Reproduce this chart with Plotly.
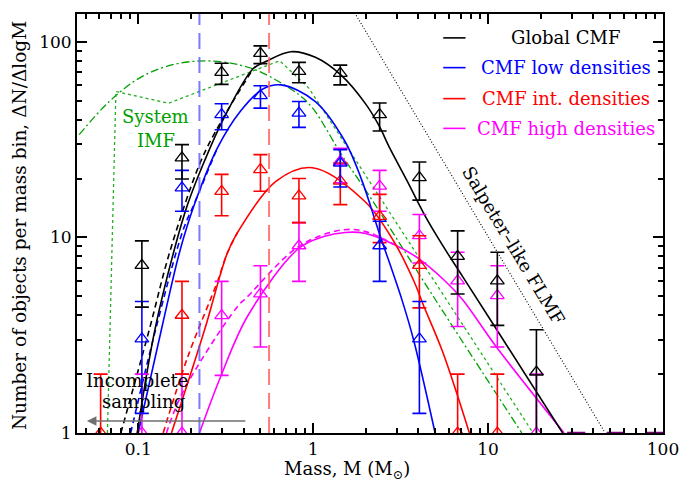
import numpy as np
import plotly.graph_objects as go

# ---------------------------------------------------------------- data
# binned core mass function: value, upper and lower end of the error bar
global_m  = [0.105, 0.178, 0.30, 0.50, 0.83, 1.43, 2.4, 4.05, 6.7, 11.3, 18.9]
global_n  = [7.2, 25.5, 69.8, 87.2, 70.5, 69.0, 42.4, 20.2, 8.0, 6.0, 2.05]
global_hi = [9.6, 29.8, 77.6, 95.3, 78.5, 76.0, 48.6, 24.3, 10.8, 8.4, 3.37]
global_lo = [4.4, 19.9, 60.6, 77.3, 61.7, 60.2, 35.0, 15.5, 5.14, 3.55, 0.7]

low_m  = [0.105, 0.178, 0.30, 0.50, 0.83, 1.43, 2.4, 4.05]
low_n  = [3.03, 17.9, 42.4, 53.1, 43.2, 24.0, 9.06, 3.03]
low_hi = [4.7, 22.0, 48.2, 59.6, 49.5, 28.1, 12.1, 4.7]
low_lo = [1.26, 13.6, 35.5, 45.8, 36.5, 18.1, 5.96, 1.26]

int_m  = [0.061, 0.178, 0.30, 0.50, 0.83, 1.43, 2.4, 4.05, 6.7, 11.3]
int_n  = [1.0, 4.0, 17.2, 22.2, 16.3, 19.4, 12.8, 7.2, 1.0, 1.0]
int_hi = [2.0, 5.96, 21.0, 26.5, 20.0, 24.0, 16.6, 10.2, 2.0, 2.0]
int_lo = [0.5, 2.0, 12.9, 17.2, 11.9, 14.7, 9.4, 4.36, 0.5, 0.5]

high_m  = [0.105, 0.178, 0.30, 0.50, 0.83, 1.43, 2.4, 4.05, 6.7, 11.3, 18.9]
high_n  = [1.0, 1.0, 3.98, 5.14, 9.06, 24.5, 18.3, 10.2, 6.0, 5.04, 1.0]
high_hi = [2.0, 2.0, 5.96, 7.16, 11.9, 28.5, 22.0, 13.1, 8.4, 7.16, 2.0]
high_lo = [0.5, 0.5, 1.97, 2.75, 5.96, 19.0, 13.6, 7.4, 3.5, 2.75, 0.5]

# empty high-mass bins (drawn at the floor of the plot)
empty_m = [31.9, 53.7, 90.6]
empty_n = [1.0, 1.0, 1.0]

# fitted mass functions (solid) and alternative fits (dashed)
fit_global_m = [0.0987, 0.124, 0.16, 0.192, 0.239, 0.309, 0.455, 0.54, 0.746, 1.03, 1.44,
                2.0, 2.39, 2.72, 3.44, 4.3, 5.5, 7.16, 12.0, 26.7]
fit_global_n = [1.0, 3.3, 8.5, 14.8, 24.5, 40.7, 73.0, 79.5, 89.0, 83.3, 67.7,
                48.0, 37.0, 29.0, 19.5, 13.2, 9.1, 6.3, 3.07, 1.0]
alt_global_m = [0.0796, 0.115, 0.152, 0.228, 0.30, 0.455]
alt_global_n = [1.0, 3.3, 8.5, 24.5, 39.5, 73.0]

fit_low_m = [0.1, 0.136, 0.173, 0.21, 0.283, 0.383, 0.519, 0.656, 1.03, 1.52, 1.89, 2.39,
             3.23, 3.76, 4.98]
fit_low_n = [1.0, 3.4, 8.5, 14.8, 28.5, 44.0, 57.5, 60.2, 49.5, 31.0, 19.8, 10.5,
             4.75, 2.97, 1.0]
alt_low_m = [0.0906, 0.125, 0.18, 0.21, 0.283]
alt_low_n = [1.0, 3.3, 10.8, 15.0, 28.5]

fit_int_m = [0.155, 0.239, 0.323, 0.37, 0.615, 0.99, 1.97, 2.9, 3.76, 4.27, 5.5, 7.82]
fit_int_n = [1.0, 3.34, 8.3, 10.6, 19.4, 22.7, 15.3, 9.5, 6.0, 4.5, 2.6, 1.0]
alt_int_m = [0.139, 0.192, 0.285, 0.323, 0.37]
alt_int_n = [1.0, 2.45, 6.0, 8.3, 10.6]

fit_high_m = [0.224, 0.296, 0.425, 0.83, 1.15, 1.52, 1.97, 2.9, 3.92, 5.66, 7.16, 11.0, 27.2]
fit_high_n = [1.0, 1.94, 4.0, 8.8, 10.1, 10.6, 10.5, 9.2, 7.9, 6.0, 4.8, 2.8, 1.0]
alt_high_m = [0.145, 0.18, 0.367, 0.418, 0.83, 1.45, 2.0, 2.9]
alt_high_n = [1.0, 1.62, 4.4, 4.94, 9.0, 10.9, 10.7, 9.2]

# system IMF (lognormal + power law) and its binned version
imf_m = [0.046, 0.0684, 0.105, 0.162, 0.249, 0.383, 0.519, 0.83, 1.0, 1.46, 2.0, 4.86, 15.6]
imf_n = [33.5, 49.5, 66.4, 76.8, 79.8, 76.0, 69.0, 53.6, 45.5, 26.3, 17.4, 5.0, 1.0]
imf_bin_m = [0.0667, 0.0746, 0.149, 0.644, 0.946, 18.1]
imf_bin_n = [1.0, 55.7, 48.5, 80.0, 57.9, 1.0]

# Salpeter-like field mass function
salp_m = [1.5, 46.7]
salp_n = [174.0, 1.0]

# completeness limits of the low- and intermediate-density samples
cut_low = 0.224
cut_int = 0.56

legend_labels = ["Global CMF", "CMF low densities", "CMF int. densities", "CMF high densities"]

x_ticks = [0.1, 1, 10, 100]
y_ticks = [1, 10, 100]

# ---------------------------------------------------------------- style
BLACK, BLUE, RED, MAG = "#000000", "#0000ff", "#ff0000", "#ff00ff"
GREEN = "#00a000"
FONT = "DejaVu Serif"

fig = go.Figure()


def points(m, n, hi, lo, color):
    fig.add_trace(go.Scatter(
        x=m, y=n, mode="markers",
        marker=dict(symbol="triangle-up-open", size=12, color=color,
                    line=dict(width=1.3, color=color)),
        error_y=dict(type="data", symmetric=False,
                     array=list(np.array(hi) - np.array(n)),
                     arrayminus=list(np.array(n) - np.array(lo)),
                     color=color, thickness=1.6, width=7),
        showlegend=False))


def curve(m, n, color, dash="solid", width=1.6, shape="spline"):
    fig.add_trace(go.Scatter(x=m, y=n, mode="lines",
                             line=dict(color=color, width=width, dash=dash, shape=shape),
                             showlegend=False, hoverinfo="skip"))


def label(x, y, text, color=BLACK, size=18, angle=0):
    fig.add_annotation(xref="paper", yref="paper", x=x, y=y, text=text,
                       showarrow=False, xanchor="center", yanchor="middle",
                       textangle=angle, font=dict(family=FONT, size=size, color=color))


# reference mass functions
curve(salp_m, salp_n, BLACK, dash="1px,2px", width=1.1, shape="linear")
curve(imf_m, imf_n, GREEN, dash="8px,3px,2px,3px", width=1.3)
curve(imf_bin_m, imf_bin_n, "#22b022", dash="dot", width=1.3, shape="linear")

# fits
curve(alt_high_m, alt_high_n, MAG, dash="6px,4px")
curve(fit_high_m, fit_high_n, MAG)
curve(alt_int_m, alt_int_n, RED, dash="6px,4px")
curve(fit_int_m, fit_int_n, RED)
curve(alt_low_m, alt_low_n, BLUE, dash="6px,4px")
curve(fit_low_m, fit_low_n, BLUE)
curve(alt_global_m, alt_global_n, BLACK, dash="6px,4px")
curve(fit_global_m, fit_global_n, BLACK)

# binned data
points(high_m, high_n, high_hi, high_lo, MAG)
points(int_m, int_n, int_hi, int_lo, RED)
points(low_m, low_n, low_hi, low_lo, BLUE)
points(global_m, global_n, global_hi, global_lo, BLACK)
fig.add_trace(go.Scatter(x=empty_m, y=empty_n, mode="markers",
                         marker=dict(symbol="line-ew-open", size=13, color="#800080",
                                     line=dict(width=2.5, color="#800080")),
                         showlegend=False))

# completeness limits
for cut, col in [(cut_low, "rgba(90,90,255,0.8)"), (cut_int, "rgba(255,90,90,0.8)")]:
    fig.add_shape(type="line", xref="x", yref="paper", x0=cut, x1=cut, y0=0, y1=1,
                  line=dict(color=col, width=2, dash="16px,8px"))

# legend (centred labels)
legend_colors = [BLACK, BLUE, RED, MAG]
legend_y = [0.943, 0.872, 0.798, 0.727]
for lab, col, yy in zip(legend_labels, legend_colors, legend_y):
    fig.add_shape(type="line", xref="paper", yref="paper", x0=0.625, x1=0.663,
                  y0=yy, y1=yy, line=dict(color=col, width=1.6))
    label(0.834, yy, lab, col)

# labels inside the plot
label(0.134, 0.755, "System", GREEN)
label(0.135, 0.698, "IMF", GREEN)
label(0.104, 0.125, "Incomplete")
label(0.114, 0.074, "sampling")
fig.add_annotation(xref="paper", yref="paper", x=0.0168, y=0.0285, ax=160, ay=0,
                   text="", showarrow=True, arrowhead=2, arrowsize=1.2,
                   arrowwidth=1.6, arrowcolor="#707070")
label(0.745, 0.447, "Salpeter\u2013like FLMF", angle=59)

# axis titles
label(0.4606, -0.088, "Mass, M (M<sub>\u2299</sub>)", size=18)
label(-0.0988, 0.494, "Number of objects per mass bin, \u0394N/\u0394logM", size=18.5, angle=-90)

# minor tick positions (2..9 times each decade)
x_minor = [k * 10.0 ** d for d in range(-2, 2) for k in range(2, 10)]
y_minor = [k * 10.0 ** d for d in range(0, 3) for k in range(2, 10)]

fig.update_xaxes(type="log", range=[np.log10(0.0447), 2.0],
                 ticks="inside", ticklen=10, tickwidth=2, tickcolor="#000000",
                 showline=True, linecolor="black", linewidth=2, mirror="ticks",
                 tickvals=x_ticks,
                 minor=dict(tickvals=x_minor, ticks="inside", ticklen=5,
                            tickwidth=1.5, tickcolor="#000000"),
                 showgrid=False,
                 tickfont=dict(family=FONT, size=17, color="black"))
fig.update_yaxes(type="log", range=[0.0, 2.142],
                 ticks="inside", ticklen=10, tickwidth=2, tickcolor="#000000",
                 showline=True, linecolor="black", linewidth=2, mirror="ticks",
                 tickvals=y_ticks,
                 minor=dict(tickvals=y_minor, ticks="inside", ticklen=5,
                            tickwidth=1.5, tickcolor="#000000"),
                 showgrid=False,
                 tickfont=dict(family=FONT, size=17, color="black"))

fig.update_layout(width=691, height=482,
                  margin=dict(l=77, r=17, t=12, b=49),
                  plot_bgcolor="white",
                  showlegend=False)

fig.write_html("out.html")
